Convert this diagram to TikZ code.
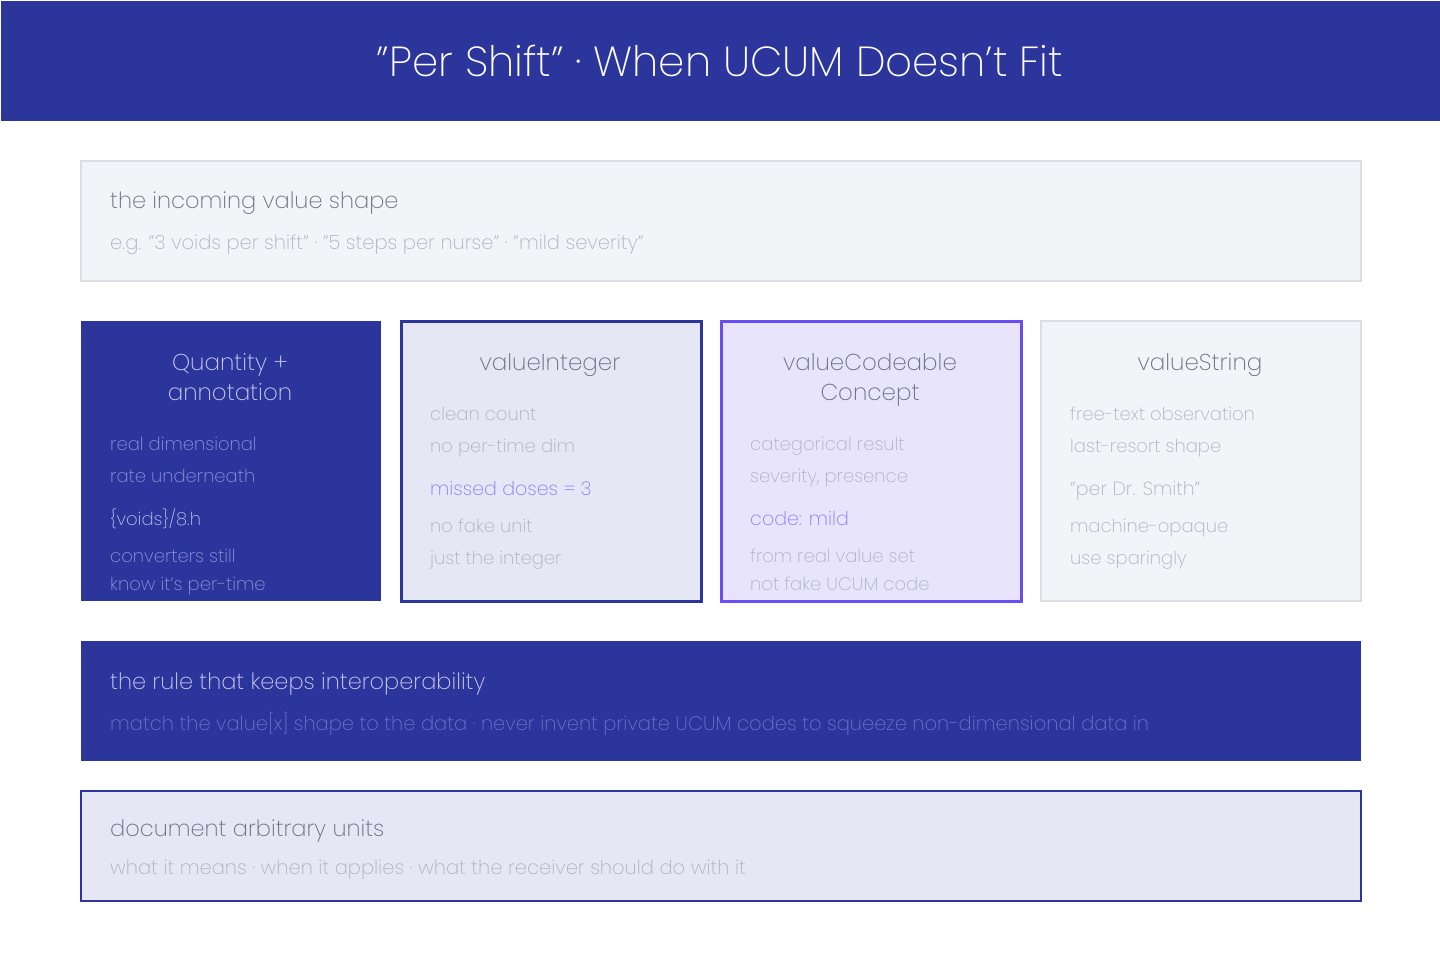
\documentclass[tikz,border=0pt]{standalone}
\usepackage{fontspec}
\setmainfont{Poppins ExtraLight}
\usetikzlibrary{positioning}
\definecolor{navy}{HTML}{2B359C}
\definecolor{navysoft}{HTML}{E5E7F5}
\definecolor{lilac}{HTML}{E8E4FC}
\definecolor{violet}{HTML}{6A4CF5}
\definecolor{mist}{HTML}{F3F4F8}
\definecolor{mistline}{HTML}{DCDEE6}
\definecolor{ink}{HTML}{6E7080}
\definecolor{inkfaint}{HTML}{B0B2C0}
\definecolor{accent}{HTML}{8B7CFF}
\definecolor{paletitle}{HTML}{C9CCF0}
\definecolor{palebody}{HTML}{8E95D8}
\definecolor{palesub}{HTML}{6A72C8}
\newcommand{\dq}{\symbol{34}}
\newcommand{\sq}{\symbol{39}}

\begin{document}
\begin{tikzpicture}[
  x=1pt, y=-1pt,
  font=\fontsize{18}{22}\selectfont,
  panel/.style={anchor=north west, inner sep=0pt, line width=2pt},
  title/.style={anchor=base, align=center, inner sep=0pt,
                font=\fontsize{23}{30}\selectfont},
  head/.style={anchor=base west, inner sep=0pt, font=\fontsize{22.5}{26}\selectfont},
  sub/.style={anchor=base west, inner sep=0pt, font=\fontsize{19.5}{22}\selectfont},
  line/.style={anchor=base west, inner sep=0pt}
]
\useasboundingbox[fill=white] (0,0) rectangle (1440,960);

% banner
\node[panel, fill=navy, minimum width=1440pt, minimum height=120pt] (banner) at (0,0) {};
\node[anchor=base, inner sep=0pt, text=white, font=\fontsize{42}{48}\selectfont]
  (heading) at (720,77) {\dq Per Shift\dq{} · When UCUM Doesn\sq t Fit};

% incoming shape
\node[panel, draw=mistline, fill=mist, minimum width=1280pt, minimum height=120pt] (incoming) at (80,160) {};
\node[head, text=ink] (incomingT) at (110,209) {the incoming value shape};
\node[sub, text=inkfaint] (incomingS) at (110,249)
  {e.g. \dq 3 voids per shift\dq{} · \dq 5 steps per nurse\dq{} · \dq mild severity\dq};

% four options
\node[panel, fill=navy, minimum width=300pt, minimum height=280pt] (quantity) at (80,320) {};
\node[panel, draw=navy, line width=3pt, fill=navysoft, minimum width=300pt, minimum height=280pt] (integer) at (400,320) {};
\node[panel, draw=violet, line width=3pt, fill=lilac, minimum width=300pt, minimum height=280pt] (codeable) at (720,320) {};
\node[panel, draw=mistline, fill=mist, minimum width=320pt, minimum height=280pt] (string) at (1040,320) {};

\node[title, text=paletitle] (quantityT) at (230,400) {Quantity +\\annotation};
\node[line, text=palebody] (quantity1) at (110,450) {real dimensional};
\node[line, text=palebody] (quantity2) at (110,482) {rate underneath};
\node[line, text=paletitle!80!palebody] (quantity3) at (110,525) {\{voids\}/8.h};
\node[line, text=palebody] (quantity4) at (110,562) {converters still};
\node[line, text=palebody] (quantity5) at (110,590) {know it\sq s per-time};

\node[title, text=ink] (integerT) at (550,370) {valueInteger};
\node[line, text=inkfaint] (integer1) at (430,420) {clean count};
\node[line, text=inkfaint] (integer2) at (430,452) {no per-time dim};
\node[line, text=accent, font=\fontsize{19}{22}\selectfont] (integer3) at (430,495) {missed doses = 3};
\node[line, text=inkfaint] (integer4) at (430,532) {no fake unit};
\node[line, text=inkfaint] (integer5) at (430,564) {just the integer};

\node[title, text=ink] (codeableT) at (870,400) {valueCodeable\\Concept};
\node[line, text=inkfaint] (codeable1) at (750,450) {categorical result};
\node[line, text=inkfaint] (codeable2) at (750,482) {severity, presence};
\node[line, text=accent, font=\fontsize{19}{22}\selectfont] (codeable3) at (750,525) {code: mild};
\node[line, text=inkfaint] (codeable4) at (750,562) {from real value set};
\node[line, text=inkfaint] (codeable5) at (750,590) {not fake UCUM code};

\node[title, text=ink] (stringT) at (1200,370) {valueString};
\node[line, text=inkfaint] (string1) at (1070,420) {free-text observation};
\node[line, text=inkfaint] (string2) at (1070,452) {last-resort shape};
\node[line, text=inkfaint, font=\fontsize{19}{22}\selectfont] (string3) at (1070,495) {\dq per Dr. Smith\dq};
\node[line, text=inkfaint] (string4) at (1070,532) {machine-opaque};
\node[line, text=inkfaint] (string5) at (1070,564) {use sparingly};

% rule
\node[panel, fill=navy, minimum width=1280pt, minimum height=120pt] (rule) at (80,640) {};
\node[head, text=paletitle] (ruleT) at (110,689) {the rule that keeps interoperability};
\node[sub, text=palesub] (ruleS) at (110,730)
  {match the value[x] shape to the data · never invent private UCUM codes to squeeze non-dimensional data in};

% arbitrary units
\node[panel, draw=navy, fill=navysoft, minimum width=1280pt, minimum height=110pt] (units) at (80,790) {};
\node[head, text=ink] (unitsT) at (110,836) {document arbitrary units};
\node[sub, text=inkfaint] (unitsS) at (110,874)
  {what it means · when it applies · what the receiver should do with it};
\end{tikzpicture}
\end{document}
